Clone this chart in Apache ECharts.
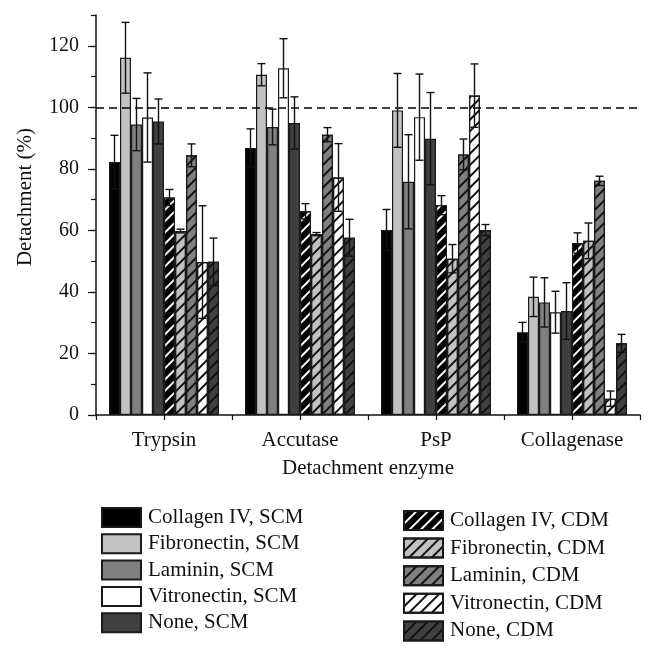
<!DOCTYPE html>
<html><head><meta charset="utf-8">
<script src="https://cdn.jsdelivr.net/npm/echarts@6/dist/echarts.min.js"></script>
<style>html,body{margin:0;padding:0;background:#fff}#c{width:653px;height:656px}</style>
</head><body><div id="c"></div>
<script>
// ---- data ----
const categories = ['Trypsin', 'Accutase', 'PsP', 'Collagenase'];
const seriesNames = ['Collagen IV, SCM', 'Fibronectin, SCM', 'Laminin, SCM', 'Vitronectin, SCM', 'None, SCM',
                     'Collagen IV, CDM', 'Fibronectin, CDM', 'Laminin, CDM', 'Vitronectin, CDM', 'None, CDM'];
const collagenSCM    = [82.2, 86.8, 60.1, 26.9];
const collagenSCMErr = [8.7, 6.2, 6.7, 3.2];
const fibroSCM       = [116.1, 110.6, 99.0, 38.4];
const fibroSCMErr    = [11.5, 3.6, 12.0, 6.4];
const lamSCM         = [94.4, 93.6, 75.8, 36.6];
const lamSCMErr      = [8.5, 5.8, 15.3, 8.0];
const vitroSCM       = [96.7, 112.7, 96.8, 33.4];
const vitroSCMErr    = [14.5, 9.6, 14.0, 6.8];
const noneSCM        = [95.4, 94.9, 89.8, 33.8];
const noneSCMErr     = [7.3, 8.5, 15.0, 9.2];
const collagenCDM    = [70.7, 66.2, 68.2, 55.9];
const collagenCDMErr = [2.6, 2.5, 3.1, 3.3];
const fibroCDM       = [59.8, 58.8, 50.8, 56.6];
const fibroCDMErr    = [0.6, 0.5, 4.6, 5.8];
const lamCDM         = [84.4, 91.1, 84.7, 76.1];
const lamCDMErr      = [3.7, 2.3, 5.0, 1.5];
const vitroCDM       = [49.7, 77.2, 103.8, 5.3];
const vitroCDMErr    = [18.3, 11.0, 10.3, 2.5];
const noneCDM        = [49.8, 57.6, 60.1, 23.3];
const noneCDMErr     = [7.7, 6.0, 1.8, 2.9];
const yTicks = [0, 20, 40, 60, 80, 100, 120];
const referenceLine = 100;

const values = [collagenSCM, fibroSCM, lamSCM, vitroSCM, noneSCM, collagenCDM, fibroCDM, lamCDM, vitroCDM, noneCDM];
const errors = [collagenSCMErr, fibroSCMErr, lamSCMErr, vitroSCMErr, noneSCMErr, collagenCDMErr, fibroCDMErr, lamCDMErr, vitroCDMErr, noneCDMErr];

// ---- styles ----
const FONT = 'Liberation Serif';
const fills = ['#000000', '#c2c2c2', '#808080', '#ffffff', '#404040'];
const BW = 11;
const chart = echarts.init(document.getElementById('c'), null, {renderer: 'canvas'});

function hatch(color) {
  return {symbol: 'rect', symbolSize: 1, color: color, backgroundColor: null,
          dashArrayX: [1, 0], dashArrayY: [2, 6], rotation: -Math.PI / 4};
}

const series = [];
for (let i = 0; i < 10; i++) {
  const isCDM = i >= 5;
  const fill = fills[i % 5];
  const s = {
    name: seriesNames[i], type: 'bar', barWidth: BW, barGap: '0%',
    data: values[i], z: 2,
    itemStyle: {color: fill, borderColor: '#1a1a1a', borderWidth: 1.2},
    emphasis: {disabled: true}
  };
  if (isCDM) s.itemStyle.decal = hatch(i === 5 ? '#ffffff' : '#111111');
  if (i === 0) {
    s.markLine = {silent: true, symbol: 'none', label: {show: false},
      lineStyle: {type: [8, 5], color: '#000', width: 1.5},
      data: [{yAxis: referenceLine}]};
  }
  series.push(s);
}
for (let i = 0; i < 10; i++) {
  const k = i;
  series.push({
    name: 'err' + i, type: 'custom', z: 5, silent: true,
    data: values[i].map((v, c) => [c, v, errors[i][c]]),
    renderItem: function (params, api) {
      const c = api.value(0), v = api.value(1), e = api.value(2);
      const x = api.coord([c, 0])[0] + (k - 4.5) * BW;
      const yt = api.coord([c, v + e])[1];
      const yb = api.coord([c, Math.max(0, v - e)])[1];
      const st = {stroke: '#111', lineWidth: 1.4};
      return {type: 'group', children: [
        {type: 'line', shape: {x1: x, y1: yt, x2: x, y2: yb}, style: st},
        {type: 'line', shape: {x1: x - 4, y1: yt, x2: x + 4, y2: yt}, style: st},
        {type: 'line', shape: {x1: x - 4, y1: yb, x2: x + 4, y2: yb}, style: st}
      ]};
    }
  });
}

const legendText = {fontFamily: FONT, fontSize: 21, color: '#111', padding: [0, 0, 0, 2]};
const option = {
  animation: false,
  backgroundColor: '#fff',
  grid: {left: 96, right: 13, top: 15, bottom: 241, containLabel: false},
  legend: [
    {data: seriesNames.slice(0, 5), orient: 'vertical', left: 96, top: 502, icon: 'rect',
     itemWidth: 39, itemHeight: 19, itemGap: 5.3, textStyle: legendText, selectedMode: false},
    {data: seriesNames.slice(5), orient: 'vertical', left: 398, top: 505, icon: 'rect',
     itemWidth: 39, itemHeight: 19, itemGap: 6.6, textStyle: legendText, selectedMode: false}
  ],
  xAxis: [
    {type: 'category', data: categories, boundaryGap: true,
     name: 'Detachment enzyme', nameLocation: 'middle', nameGap: 43,
     nameTextStyle: {fontFamily: FONT, fontSize: 21, color: '#111'},
     axisLine: {lineStyle: {color: '#111', width: 1.5}},
     axisTick: {show: true, interval: 0, length: 5, lineStyle: {color: '#111', width: 1.2}},
     axisLabel: {fontFamily: FONT, fontSize: 21, color: '#111', margin: 15, interval: 0},
     splitLine: {show: false}},
    {type: 'category', data: categories, boundaryGap: true, position: 'bottom',
     axisLine: {show: false},
     axisTick: {show: true, interval: 0, alignWithLabel: true, length: 5, lineStyle: {color: '#111', width: 1.2}},
     axisLabel: {show: false}, splitLine: {show: false}}
  ],
  yAxis: [
    {type: 'value', min: 0, max: 130, interval: 10, position: 'left',
     axisLine: {show: false},
     axisTick: {show: true, length: 5, lineStyle: {color: '#111', width: 1.2}},
     axisLabel: {show: false}, splitLine: {show: false}},
    {type: 'value', min: 0, max: 130, interval: 20, position: 'left',
     name: 'Detachment (%)', nameLocation: 'middle', nameGap: 60,
     nameTextStyle: {fontFamily: FONT, fontSize: 21, color: '#111', padding: [0, 0, 0, 36]},
     axisLine: {show: true, lineStyle: {color: '#111', width: 1.5}},
     axisTick: {show: true, length: 8, customValues: yTicks, lineStyle: {color: '#111', width: 1.2}},
     axisLabel: {fontFamily: FONT, fontSize: 20, color: '#111', margin: 17, customValues: yTicks,
                 formatter: v => (v % 20 === 0 ? String(v) : '')},
     splitLine: {show: false}}
  ],
  series: series
};
chart.setOption(option);
</script>
</body></html>
